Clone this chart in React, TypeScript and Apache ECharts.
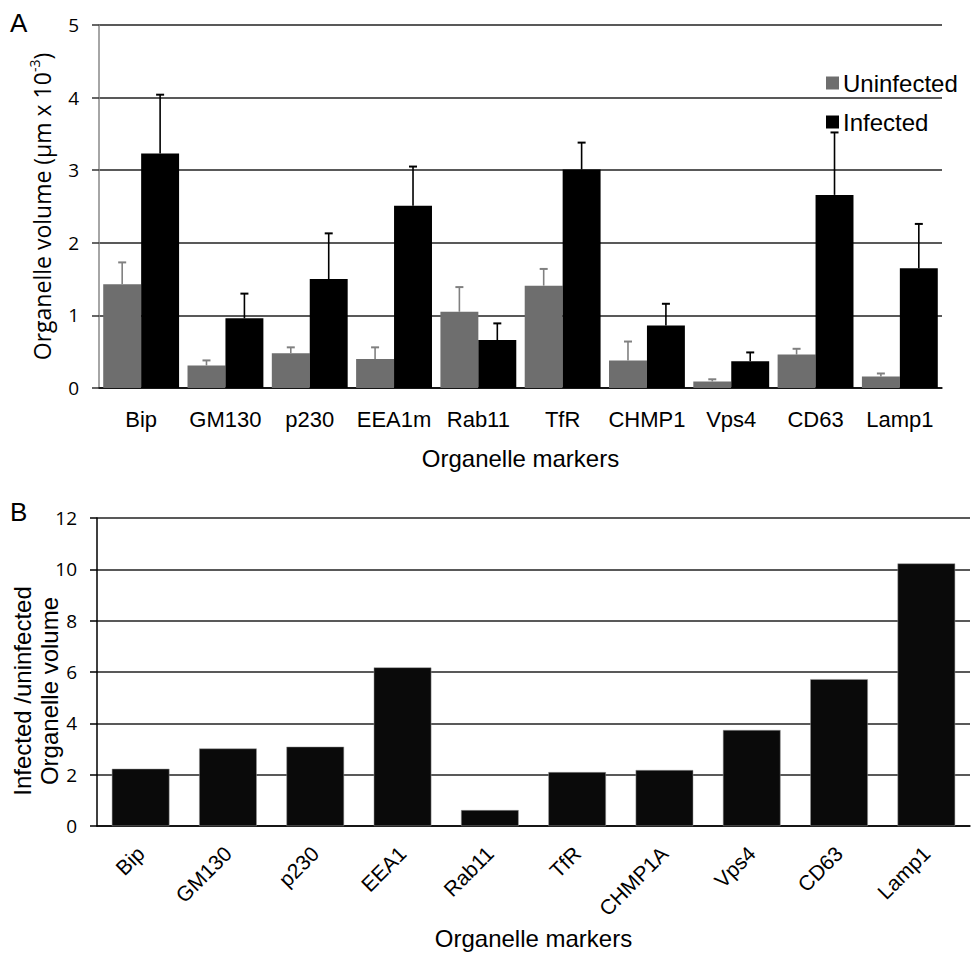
import React, { useEffect, useRef } from "react";
import * as echarts from "echarts";

const categoriesA = ["Bip", "GM130", "p230", "EEA1m", "Rab11", "TfR", "CHMP1", "Vps4", "CD63", "Lamp1"];
const uninfected = [1.43, 0.31, 0.48, 0.4, 1.05, 1.41, 0.38, 0.09, 0.46, 0.16];
const uninfectedErr = [0.3, 0.07, 0.08, 0.16, 0.34, 0.23, 0.26, 0.03, 0.08, 0.04];
const infected = [3.23, 0.96, 1.5, 2.51, 0.66, 3.01, 0.86, 0.37, 2.66, 1.65];
const infectedErr = [0.81, 0.34, 0.63, 0.54, 0.23, 0.37, 0.3, 0.12, 0.86, 0.61];

const categoriesB = ["Bip", "GM130", "p230", "EEA1", "Rab11", "TfR", "CHMP1A", "Vps4", "CD63", "Lamp1"];
const ratio = [2.23, 3.02, 3.09, 6.18, 0.62, 2.1, 2.18, 3.74, 5.72, 10.23];

const GREY = "#6e6e6e";
const ARIAL = "'Liberation Sans', Arial, sans-serif";
const CAL = "'Open Sans', sans-serif";

function errorSeries(name: string, values: number[], errs: number[], side: number, color: string) {
  return {
    type: "custom",
    name: name + " err",
    xAxisIndex: 0,
    yAxisIndex: 0,
    z: 5,
    silent: true,
    encode: { x: 0, y: 1 },
    data: values.map((v, i) => [i, v, errs[i]]),
    renderItem: (params: any, api: any) => {
      const i = api.value(0);
      const v = api.value(1);
      const e = api.value(2);
      const band = api.size([1, 0])[0];
      const bw = (band * 0.9) / 2;
      const base = api.coord([i, v]);
      const top = api.coord([i, v + e]);
      const x = base[0] + (side * bw) / 2;
      const cap = 4;
      return {
        type: "group",
        children: [
          { type: "line", shape: { x1: x, y1: base[1], x2: x, y2: top[1] }, style: { stroke: color, lineWidth: 1.6 } },
          { type: "line", shape: { x1: x - cap, y1: top[1], x2: x + cap, y2: top[1] }, style: { stroke: color, lineWidth: 2 } },
        ],
      };
    },
  };
}

export default function App() {
  const ref = useRef<HTMLDivElement>(null);
  useEffect(() => {
    if (!ref.current) return;
    const chart = echarts.init(ref.current, undefined, { renderer: "svg" });
    chart.setOption({
      animation: false,
      backgroundColor: "#fff",
      grid: [
        { left: 99, right: 29, top: 25, height: 363 },
        { left: 97, right: 1, top: 518, height: 308 },
      ],
      legend: {
        left: 821,
        top: 66,
        orient: "vertical",
        itemWidth: 13,
        itemHeight: 13,
        itemGap: 15,
        icon: "rect",
        data: ["Uninfected", "Infected"],
        textStyle: { fontFamily: ARIAL, fontSize: 24, color: "#000", padding: [0, 0, 0, -1] },
      },
      xAxis: [
        {
          type: "category",
          gridIndex: 0,
          data: categoriesA,
          axisLine: { lineStyle: { color: "#000", width: 1.5 } },
          axisTick: { show: false },
          axisLabel: { fontFamily: ARIAL, fontSize: 22, color: "#000", margin: 20, interval: 0 },
          name: "Organelle markers",
          nameLocation: "middle",
          nameGap: 58,
          nameTextStyle: { fontFamily: ARIAL, fontSize: 24, color: "#000" },
        },
        {
          type: "category",
          gridIndex: 1,
          data: categoriesB,
          axisLine: { lineStyle: { color: "#000", width: 1.5 } },
          axisTick: { show: false },
          axisLabel: { fontFamily: ARIAL, fontSize: 21, color: "#000", margin: 24, rotate: 45, interval: 0 },
          name: "Organelle markers",
          nameLocation: "middle",
          nameGap: 100,
          nameTextStyle: { fontFamily: ARIAL, fontSize: 24, color: "#000" },
        },
      ],
      yAxis: [
        {
          type: "value",
          gridIndex: 0,
          min: 0,
          max: 5,
          interval: 1,
          axisLine: { show: true, lineStyle: { color: "#888", width: 1.5 } },
          axisTick: { show: true, length: 7, lineStyle: { color: "#333", width: 1.5 } },
          splitLine: { lineStyle: { color: "#222", width: 1.5 } },
          axisLabel: { fontFamily: CAL, fontSize: 19, color: "#000", margin: 20 },
          name: "Organelle volume (μm x 10{sup|-3})",
          nameLocation: "middle",
          nameGap: 34,
          nameTextStyle: {
            fontFamily: CAL,
            fontSize: 23,
            color: "#000",
            lineHeight: 30,
            rich: { sup: { fontFamily: CAL, fontSize: 14, color: "#000", verticalAlign: "top", lineHeight: 30 } },
          },
        },
        {
          type: "value",
          gridIndex: 1,
          min: 0,
          max: 12,
          interval: 2,
          axisLine: { show: true, lineStyle: { color: "#000", width: 1.5 } },
          axisTick: { show: true, length: 7, lineStyle: { color: "#000", width: 1.5 } },
          splitLine: { lineStyle: { color: "#222", width: 1.5 } },
          axisLabel: { fontFamily: CAL, fontSize: 19, color: "#000", margin: 20 },
        },
      ],
      graphic: [
        { type: "text", left: 10, top: 10, style: { text: "A", fontSize: 26, fontFamily: ARIAL, fill: "#000" } },
        { type: "text", left: 10, top: 499, style: { text: "B", fontSize: 26, fontFamily: ARIAL, fill: "#000" } },
        {
          type: "text",
          x: 36,
          y: 691,
          rotation: Math.PI / 2,
          style: {
            text: "Infected /uninfected\nOrganelle volume",
            fontSize: 24,
            fontFamily: ARIAL,
            fill: "#000",
            align: "center",
            verticalAlign: "middle",
            lineHeight: 27,
          },
        },
      ],
      series: [
        {
          type: "bar",
          name: "Uninfected",
          xAxisIndex: 0,
          yAxisIndex: 0,
          data: uninfected,
          barGap: "0%",
          barCategoryGap: "10%",
          itemStyle: { color: GREY },
        },
        {
          type: "bar",
          name: "Infected",
          xAxisIndex: 0,
          yAxisIndex: 0,
          data: infected,
          barGap: "0%",
          barCategoryGap: "10%",
          itemStyle: { color: "#000" },
        },
        errorSeries("Uninfected", uninfected, uninfectedErr, -1, "#808080"),
        errorSeries("Infected", infected, infectedErr, 1, "#000"),
        {
          type: "bar",
          name: "Ratio",
          xAxisIndex: 1,
          yAxisIndex: 1,
          data: ratio,
          barCategoryGap: "34%",
          itemStyle: { color: "#0a0a0a", borderColor: "#999", borderWidth: 0.5 },
        },
      ],
    });
    return () => chart.dispose();
  }, []);
  return <div ref={ref} style={{ width: 971, height: 960, position: "absolute", left: 0, top: 0 }} />;
}
